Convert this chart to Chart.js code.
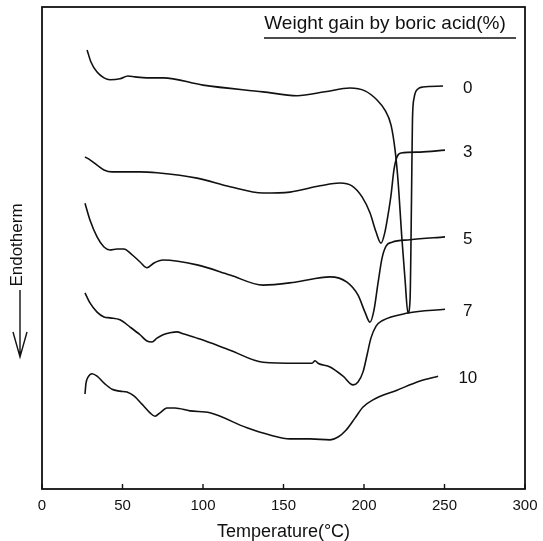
<!DOCTYPE html>
<html>
<head>
<meta charset="utf-8">
<script src="https://cdn.jsdelivr.net/npm/chart.js@4.4.1/dist/chart.umd.min.js"></script>
<style>
  html, body { margin: 0; padding: 0; background: #fff; }
  #wrap { width: 543px; height: 541px; }
</style>
</head>
<body>
<div id="wrap"><canvas id="dsc"></canvas></div>
<script>
// series labels (weight gain by boric acid, %)
var seriesNames = ['0', '3', '5', '7', '10'];

// temperature (°C) and heat flow (arbitrary units, curves offset vertically)
var temp0 = [28.0, 30.4, 34.2, 38.5, 42.2, 48.4, 53.4, 57.8, 65.2, 75.2, 100.0, 137.3, 158.4, 175.8, 191.3, 200.6, 208.1, 213.0, 216.8, 219.3, 221.1, 223.6, 225.5, 227.3, 228.6, 229.5, 230.1, 231.1, 233.5, 236.6, 249.1];
var heat0 = [91.1, 88.6, 86.5, 85.3, 84.9, 85.1, 85.7, 85.5, 85.3, 85.3, 83.8, 82.4, 81.6, 82.4, 83.2, 82.6, 80.7, 78.6, 75.5, 70.3, 64.1, 51.7, 43.4, 36.5, 39.2, 60.0, 76.6, 81.1, 83.0, 83.4, 83.6];

var temp3 = [26.7, 29.8, 34.2, 38.5, 43.5, 51.6, 60.9, 71.4, 96.3, 116.8, 137.3, 154.0, 172.7, 185.1, 192.5, 198.8, 203.7, 207.5, 210.6, 213.0, 214.9, 216.8, 218.6, 220.5, 223.0, 234.8, 250.3];
var heat3 = [68.9, 68.3, 67.2, 66.2, 65.8, 65.8, 65.8, 65.6, 64.5, 62.7, 61.4, 61.6, 62.9, 63.5, 62.9, 60.6, 57.3, 53.3, 51.0, 53.3, 56.8, 61.0, 66.2, 68.9, 69.7, 69.9, 70.3];

var temp5 = [26.7, 29.8, 34.2, 38.5, 42.2, 46.6, 50.9, 55.3, 60.9, 65.2, 69.6, 75.2, 96.3, 116.8, 137.3, 157.1, 178.9, 189.4, 196.3, 200.6, 203.7, 206.2, 208.7, 211.2, 213.7, 217.4, 228.6, 250.3];
var heat5 = [59.3, 55.8, 52.3, 50.2, 49.6, 49.8, 49.8, 48.8, 47.1, 45.9, 46.9, 47.5, 46.5, 44.4, 42.3, 42.9, 44.0, 42.9, 40.2, 36.7, 34.6, 37.1, 42.7, 47.9, 50.4, 51.2, 51.7, 52.3];

var temp7 = [26.7, 29.8, 34.2, 38.5, 42.2, 48.4, 54.7, 60.9, 65.2, 68.3, 71.4, 75.2, 79.5, 83.9, 87.6, 98.1, 116.8, 137.3, 158.4, 167.7, 169.6, 171.4, 178.9, 187.0, 193.2, 196.3, 199.4, 201.9, 204.3, 207.5, 211.2, 227.3, 250.3];
var heat7 = [40.7, 38.6, 36.7, 35.7, 35.5, 35.1, 33.6, 32.0, 30.7, 30.5, 31.3, 32.0, 32.4, 32.6, 32.2, 31.1, 28.8, 26.3, 26.1, 26.1, 26.6, 26.1, 25.3, 23.4, 21.6, 22.2, 24.3, 27.8, 31.3, 33.8, 34.9, 36.5, 37.3];

var temp10 = [26.7, 27.3, 28.6, 31.1, 34.2, 39.1, 43.5, 48.4, 52.8, 57.1, 62.1, 67.1, 70.2, 73.3, 77.6, 82.6, 91.9, 104.3, 127.3, 141.6, 154.0, 166.5, 178.9, 183.9, 188.8, 194.4, 199.4, 205.6, 220.5, 234.8, 246.0];
var heat10 = [19.7, 21.9, 23.2, 23.9, 23.4, 21.8, 20.7, 20.3, 20.1, 19.3, 17.6, 15.8, 15.1, 15.8, 16.8, 16.8, 16.2, 15.8, 12.7, 11.2, 10.4, 10.4, 10.2, 10.8, 12.2, 14.7, 17.0, 18.5, 20.5, 22.4, 23.4];

var xTicks = [0, 50, 100, 150, 200, 250, 300];

var FONT = '"Liberation Sans", Arial, Helvetica, sans-serif';

function pts(xs, ys) {
    return xs.map(function (x, i) { return { x: x, y: ys[i] }; });
}

var allTemps = [temp0, temp3, temp5, temp7, temp10];
var allHeats = [heat0, heat3, heat5, heat7, heat10];

var datasets = seriesNames.map(function (name, i) {
    return {
        label: name,
        data: pts(allTemps[i], allHeats[i]),
        borderColor: '#111',
        borderWidth: 1.6,
        pointRadius: 0,
        fill: false,
        cubicInterpolationMode: 'monotone'
    };
});

// frame, inner ticks, curve labels, title box, endotherm arrow
var decor = {
    id: 'decor',
    afterDraw: function (chart) {
        var c = chart.ctx, a = chart.chartArea;
        var xs = chart.scales.x, ys = chart.scales.y;
        c.save();
        c.strokeStyle = '#111';
        c.lineWidth = 1.8;
        c.strokeRect(a.left, a.top, a.right - a.left, a.bottom - a.top);

        c.lineWidth = 1.4;
        xTicks.forEach(function (t) {
            var px = xs.getPixelForValue(t);
            c.beginPath();
            c.moveTo(px, a.bottom);
            c.lineTo(px, a.bottom - 5);
            c.stroke();
        });

        // curve labels next to the line ends
        c.fillStyle = '#111';
        c.font = '17px ' + FONT;
        c.textAlign = 'center';
        c.textBaseline = 'middle';
        datasets.forEach(function (ds, i) {
            var last = ds.data[ds.data.length - 1];
            c.fillText(ds.label, xs.getPixelForValue(264.5), ys.getPixelForValue(last.y) + 2);
        });

        // legend heading with underline
        c.font = '19px ' + FONT;
        c.fillText('Weight gain by boric acid(%)', 385, 24);
        c.lineWidth = 1.6;
        c.beginPath();
        c.moveTo(264, 38);
        c.lineTo(516, 38);
        c.stroke();

        // y label
        c.save();
        c.translate(17, 245);
        c.rotate(-Math.PI / 2);
        c.font = '17px ' + FONT;
        c.fillText('Endotherm', 0, 0);
        c.restore();

        c.lineWidth = 1.4;
        c.beginPath();
        c.moveTo(20, 290);
        c.lineTo(20, 357);
        c.moveTo(13, 332);
        c.lineTo(20, 357);
        c.lineTo(27, 332);
        c.stroke();
        c.restore();
    }
};

var ctx = document.getElementById('dsc').getContext('2d');
var chart = new Chart(ctx, {
    type: 'line',
    data: { datasets: datasets },
    options: {
        responsive: true,
        maintainAspectRatio: false,
        animation: false,
        layout: { padding: { left: 42, right: 18, top: 7, bottom: 0 } },
        plugins: {
            legend: { display: false },
            tooltip: { enabled: false }
        },
        scales: {
            x: {
                type: 'linear',
                min: 0,
                max: 300,
                afterBuildTicks: function (scale) {
                    scale.ticks = xTicks.map(function (v) { return { value: v }; });
                },
                afterFit: function (scale) {
                    scale.paddingLeft = 0;
                    scale.paddingRight = 0;
                },
                grid: { display: false, drawTicks: false },
                border: { display: false },
                ticks: {
                    color: '#111',
                    padding: 8,
                    maxRotation: 0,
                    font: { family: FONT, size: 15, lineHeight: 1.2 }
                },
                title: {
                    display: true,
                    text: 'Temperature(°C)',
                    color: '#111',
                    padding: { top: 0, bottom: 0 },
                    font: { family: FONT, size: 18, lineHeight: 1 }
                }
            },
            y: {
                type: 'linear',
                min: 0,
                max: 100,
                display: false
            }
        }
    },
    plugins: [decor]
});
</script>
</body>
</html>
